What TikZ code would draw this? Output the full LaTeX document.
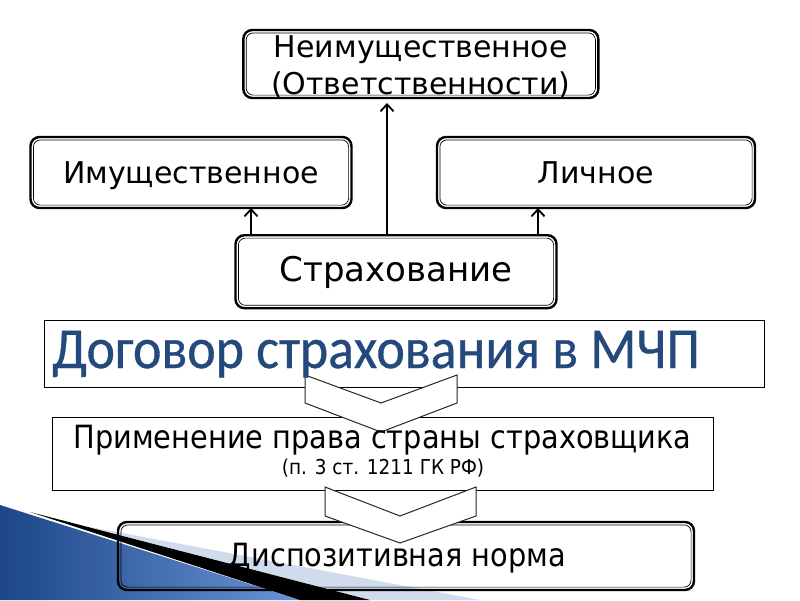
\documentclass[tikz,border=0pt]{standalone}
\usepackage{fontspec}
\setmainfont{DejaVu Sans}
\newfontfamily\carl[FakeBold=0.6,FakeStretch=0.93]{Carlito}
\newfontfamily\cond[FakeStretch=0.9]{DejaVu Sans}
\usetikzlibrary{arrows.meta}
\definecolor{titleblue}{RGB}{36,73,125}
\definecolor{decdark}{RGB}{28,70,135}
\definecolor{declight}{RGB}{105,148,215}
\definecolor{decpale}{RGB}{208,220,238}
\newcommand\myinner[1]{\draw[line width=0.7pt, rounded corners=7pt]
  ([shift={(2.9pt,2.9pt)}]#1.south west) rectangle ([shift={(-2.9pt,-2.9pt)}]#1.north east);}
\begin{document}
\begin{tikzpicture}[x=1pt,y=-1pt,
  dbox/.style={draw, line width=2.4pt, rounded corners=9pt, inner sep=0pt, outer sep=0pt},
  plainbox/.style={draw, line width=0.8pt, inner sep=0pt, outer sep=0pt},
  chev/.style={fill=white, draw=black!85, line width=1pt, line join=miter},
  arr/.style={line width=1.8pt, -{Straight Barb[length=7pt,width=13pt,line width=1.8pt]}},
  txt/.style={anchor=base, inner sep=0pt, font=\fontsize{30}{36}\selectfont}]
\useasboundingbox (0,0) rectangle (800,600);
\fill[white] (0,0) rectangle (800,600);
% decoration bottom-left
\shade[left color=decdark, right color=declight] (0,505) -- (300,600) -- (0,600) -- cycle;
\fill[decpale] (90,527) -- (480,600) -- (370,600) -- cycle;
\fill[black] (30,512) -- (370,600) -- (300,600) -- cycle;
% boxes
\node[dbox, fill=white, minimum width=355pt, minimum height=68pt] (top) at (420.8,64) {};
\node[dbox, fill=white, minimum width=321pt, minimum height=71pt] (imu) at (191,172.5) {};
\node[dbox, fill=white, minimum width=318pt, minimum height=71pt] (lich) at (596,172.5) {};
\node[dbox, fill=white, minimum width=321pt, minimum height=73pt] (stra) at (396,271.7) {};
\myinner{top}\myinner{imu}\myinner{lich}\myinner{stra}
% arrows
\draw[arr] ([xshift=-145pt]stra.north) -- ([xshift=-145pt]stra.north |- imu.south);
\draw[arr] ([xshift=142pt]stra.north) -- ([xshift=142pt]stra.north |- lich.south);
\draw[arr, shorten >=5pt] ([xshift=-9pt]stra.north) -- ([xshift=-9pt]stra.north |- top.south);
% lower boxes
\node[plainbox, minimum width=720pt, minimum height=67pt] (dog) at (404,353.5) {};
\node[plainbox, minimum width=661pt, minimum height=73pt] (prim) at (382.5,453.5) {};
\node[dbox, minimum width=576pt, minimum height=68pt] (disp) at (406,556) {};
\myinner{disp}
% chevrons
\filldraw[chev] (305,375) -- (381,403) -- (457,375) -- (457,403) -- (381,432) -- (305,403) -- cycle;
\filldraw[chev] (325,487) -- (400,516) -- (476,487) -- (476,516) -- (400,543) -- (325,516) -- cycle;
% texts
\node[txt] (top-t) at (420.8,57) {Неимущественное};
\node[txt] (top-t2) at (420.8,94) {(Ответственности)};
\node[txt] (imu-t) at (191,183) {Имущественное};
\node[txt] (lich-t) at (596,183) {Личное};
\node[txt, font=\fontsize{34}{36}\selectfont] (stra-t) at (396,281) {Страхование};
\node[anchor=base west, inner sep=0pt, text=titleblue, font=\carl\fontsize{58}{60}\selectfont] (dog-t) at (52,368) {Договор страхования в МЧП};
\node[txt, font=\cond\fontsize{32}{36}\selectfont] (prim-t) at (382.5,448) {Применение права страны страховщика};
\node[txt, font=\cond\fontsize{20.5}{22}\selectfont] (prim-s) at (383,474) {(п. 3 ст. 1211 ГК РФ)};
\node[txt, font=\cond\fontsize{32}{36}\selectfont] (disp-t) at (397.5,566) {Диспозитивная норма};
\end{tikzpicture}
\end{document}
